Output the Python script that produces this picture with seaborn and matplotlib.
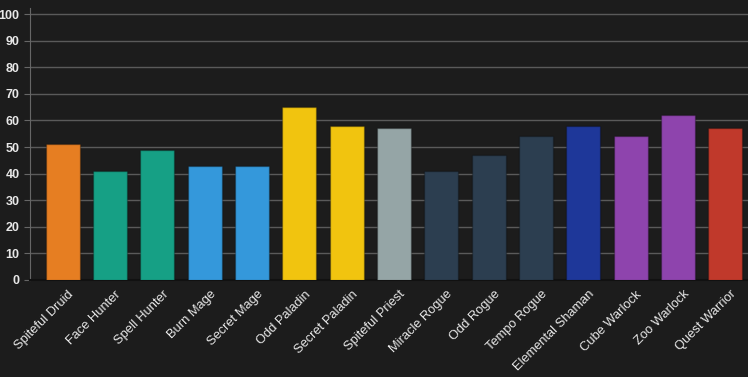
import matplotlib
matplotlib.use("Agg")
import matplotlib.pyplot as plt
import matplotlib.transforms as mtransforms
import seaborn as sns
import pandas as pd

decks = ["Spiteful Druid", "Face Hunter", "Spell Hunter", "Burn Mage", "Secret Mage",
         "Odd Paladin", "Secret Paladin", "Spiteful Priest", "Miracle Rogue", "Odd Rogue",
         "Tempo Rogue", "Elemental Shaman", "Cube Warlock", "Zoo Warlock", "Quest Warrior"]
winrates = [51, 41, 49, 43, 43, 65, 58, 57, 41, 47, 54, 58, 54, 62, 57]
colors = ["#e67e22", "#16a085", "#16a085", "#3498db", "#3498db",
          "#f1c40f", "#f1c40f", "#95a5a6", "#2c3e50", "#2c3e50",
          "#2c3e50", "#1e3799", "#8e44ad", "#8e44ad", "#c0392b"]

df = pd.DataFrame({"deck": decks, "winrate": winrates})

bg = "#1c1c1c"
plt.rcParams["font.family"] = ["Liberation Sans", "DejaVu Sans"]

fig = plt.figure(figsize=(7.48, 3.77), dpi=100, facecolor=bg)
ax = fig.add_axes([30 / 748, 97 / 377, 718 / 748, 272 / 377])
ax.set_facecolor(bg)

sns.barplot(data=df, x="deck", y="winrate", hue="deck", palette=colors,
            legend=False, width=0.72, ax=ax, saturation=1,
            edgecolor="#00000040", linewidth=1, zorder=3)

ax.set_ylim(0, 102.3)
ax.set_xlim(-0.69, 14.48)
ax.set_yticks(range(0, 101, 10))
ax.grid(axis="y", color="#5a5a5a", linewidth=1, zorder=0)
ax.set_axisbelow(True)
for s in ["top", "right"]:
    ax.spines[s].set_visible(False)
ax.spines["left"].set_color("#666666")
ax.spines["bottom"].set_color("#111111")
ax.spines["bottom"].set_linewidth(1.5)

ax.tick_params(axis="y", colors="#e8e8e8", labelsize=9, length=4, color="#666666")
ax.tick_params(axis="x", colors="#e8e8e8", labelsize=9.3, length=0, pad=6)
for lbl in ax.get_yticklabels():
    lbl.set_fontweight("bold")
shift = mtransforms.ScaledTranslation(5 / 100, 0, fig.dpi_scale_trans)
for lbl in ax.get_xticklabels():
    lbl.set_rotation(45)
    lbl.set_ha("right")
    lbl.set_rotation_mode("anchor")
    lbl.set_transform(lbl.get_transform() + shift)
ax.set_xlabel("")
ax.set_ylabel("")

fig.savefig("out.png", dpi=100, facecolor=bg)
